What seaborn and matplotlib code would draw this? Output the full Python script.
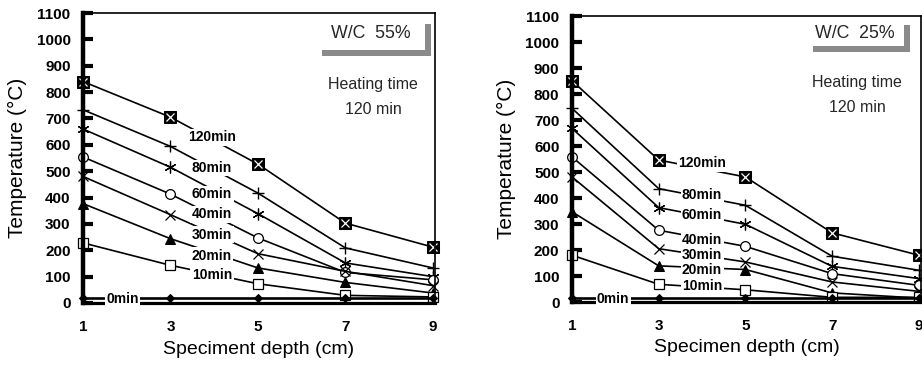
import matplotlib
matplotlib.use("Agg")
import matplotlib.pyplot as plt
import seaborn as sns
import numpy as np
from matplotlib.patches import Rectangle

sns.set_theme(style="white")
plt.rcParams['font.family'] = ['Liberation Sans', 'DejaVu Sans']

LABEL_SIZE = 10

# ---------------- data ----------------
depth = [1, 3, 5, 7, 9]
series_names = ["120min", "80min", "60min", "40min", "30min", "20min", "10min", "0min"]

wc55_120 = [840, 705, 527, 303, 212]
wc55_80 = [733, 594, 417, 209, 133]
wc55_60 = [660, 515, 339, 152, 100]
wc55_40 = [554, 413, 247, 116, 88]
wc55_30 = [480, 335, 187, 120, 66]
wc55_20 = [377, 244, 133, 78, 38]
wc55_10 = [228, 143, 73, 29, 23]
wc55_0 = [18, 18, 18, 18, 18]

wc25_120 = [851, 546, 481, 266, 180]
wc25_80 = [745, 436, 372, 176, 122]
wc25_60 = [668, 363, 299, 137, 90]
wc25_40 = [558, 276, 214, 109, 64]
wc25_30 = [481, 205, 154, 77, 41]
wc25_20 = [347, 139, 125, 35, 15]
wc25_10 = [180, 68, 47, 18, 18]
wc25_0 = [16, 16, 16, 16, 16]

yticks = list(range(0, 1101, 100))
xticks = [1, 3, 5, 7, 9]

# label positions (annotation placement)
lab55_x = [3.95, 3.95, 3.95, 3.95, 3.95, 3.95, 3.95, 1.9]
lab55_y = [629, 512, 413, 337, 259, 180, 107, 16]
lab25_x = [4.0, 4.0, 4.0, 4.0, 4.0, 4.0, 4.0, 1.95]
lab25_y = [533, 413, 334, 240, 180, 125, 60, 12]

# ---------------- styles ----------------
marker_styles = [
    dict(marker='s', markersize=8, markerfacecolor='black'),
    dict(marker='+', markersize=8.5, markeredgewidth=1.0),
    dict(marker=(6, 2, 0), markersize=8.5, markeredgewidth=0.9),
    dict(marker='o', markersize=7, markerfacecolor='white', markeredgewidth=0.9),
    dict(marker='x', markersize=7.5, markeredgewidth=0.9),
    dict(marker='^', markersize=7.5, markerfacecolor='black'),
    dict(marker='s', markersize=7.5, markerfacecolor='white', markeredgewidth=0.9),
    dict(marker='D', markersize=4.5, markerfacecolor='black'),
]

W, H = 922, 369
fig = plt.figure(figsize=(W / 100, H / 100), dpi=100)


def fx(px):
    return px / W


def fy(py):
    return 1 - py / H


def draw_panel(rect, data, lab_x, lab_y, xlabel, wc_text, wc_pos, hbar, vbar, heat_pos, heat_lines):
    ax = fig.add_axes(rect)
    for i, (vals, name) in enumerate(zip(data, series_names)):
        lw = 1.9 if name == "0min" else 1.2
        sns.lineplot(x=depth, y=vals, ax=ax, color='black', linewidth=lw,
                     markeredgecolor='black', zorder=3, clip_on=False, **marker_styles[i])
        if i == 0:
            ax.plot(depth, vals, linestyle='none', marker='x', markersize=5.5,
                    markeredgecolor='white', markeredgewidth=0.9, zorder=4, clip_on=False)
        ax.text(lab_x[i], lab_y[i], name, ha='center', va='center', fontsize=LABEL_SIZE,
                fontweight='bold', zorder=8, color='black',
                bbox=dict(boxstyle='square,pad=0.1', facecolor='white', edgecolor='none'))
    ax.set_xlim(1, 9.05)
    ax.set_ylim(0, 1100)
    ax.set_xticks(xticks)
    ax.set_yticks(yticks)
    ax.set_xticklabels([str(t) for t in xticks], fontsize=11, fontweight='bold')
    ax.set_yticklabels([str(t) for t in yticks], fontsize=11, fontweight='bold')
    ax.tick_params(axis='y', direction='in', length=7, width=3, pad=9, colors='black', left=True)
    ax.tick_params(axis='x', length=0, pad=12, colors='black')
    ax.spines['left'].set_linewidth(3.2)
    ax.spines['bottom'].set_linewidth(2.3)
    for s in ['top', 'right']:
        ax.spines[s].set_linewidth(1.2)
    for s in ax.spines.values():
        s.set_color('black')
        s.set_zorder(6)
    ax.set_xlabel(xlabel, fontsize=14, color='black')
    ax.set_ylabel('Temperature (\u00b0C)', fontsize=15, color='black')
    ax.xaxis.set_label_coords(0.5, -0.13)
    ax.yaxis.set_label_coords(-0.16, 0.5)
    ax.set_facecolor('white')

    fig.text(fx(wc_pos[0]), fy(wc_pos[1]), wc_text, ha='center', va='center', fontsize=12.8)
    # gray shadow L
    x0, x1, yb, t = hbar
    fig.add_artist(Rectangle((fx(x0), fy(yb + t / 2)), fx(x1) - fx(x0), t / H,
                             transform=fig.transFigure, facecolor='#8a8a8a', edgecolor='none'))
    xv, y0, y1, tv = vbar
    fig.add_artist(Rectangle((fx(xv - tv / 2), fy(y1)), tv / W, (y1 - y0) / H,
                             transform=fig.transFigure, facecolor='#8a8a8a', edgecolor='none'))
    for (tx, ty), line in zip(heat_pos, heat_lines):
        fig.text(fx(tx), fy(ty), line, ha='center', va='center', fontsize=11.5)
    return ax


data55 = [wc55_120, wc55_80, wc55_60, wc55_40, wc55_30, wc55_20, wc55_10, wc55_0]
data25 = [wc25_120, wc25_80, wc25_60, wc25_40, wc25_30, wc25_20, wc25_10, wc25_0]

draw_panel([fx(83), fy(303), 352 / W, 290 / H], data55, lab55_x, lab55_y,
           'Speciment depth (cm)', 'W/C  55%', (371, 33),
           (322, 431, 53, 6), (428, 24, 56, 6),
           [(373, 84), (373, 109)], ['Heating time', '120 min'])

draw_panel([fx(572), fy(302), 349 / W, 286 / H], data25, lab25_x, lab25_y,
           'Specimen depth (cm)', 'W/C  25%', (855, 33),
           (813, 910, 49, 6), (907, 25, 52, 6),
           [(857, 83), (857, 107)], ['Heating time', '120 min'])

fig.savefig('out.png', dpi=100, facecolor='white')
